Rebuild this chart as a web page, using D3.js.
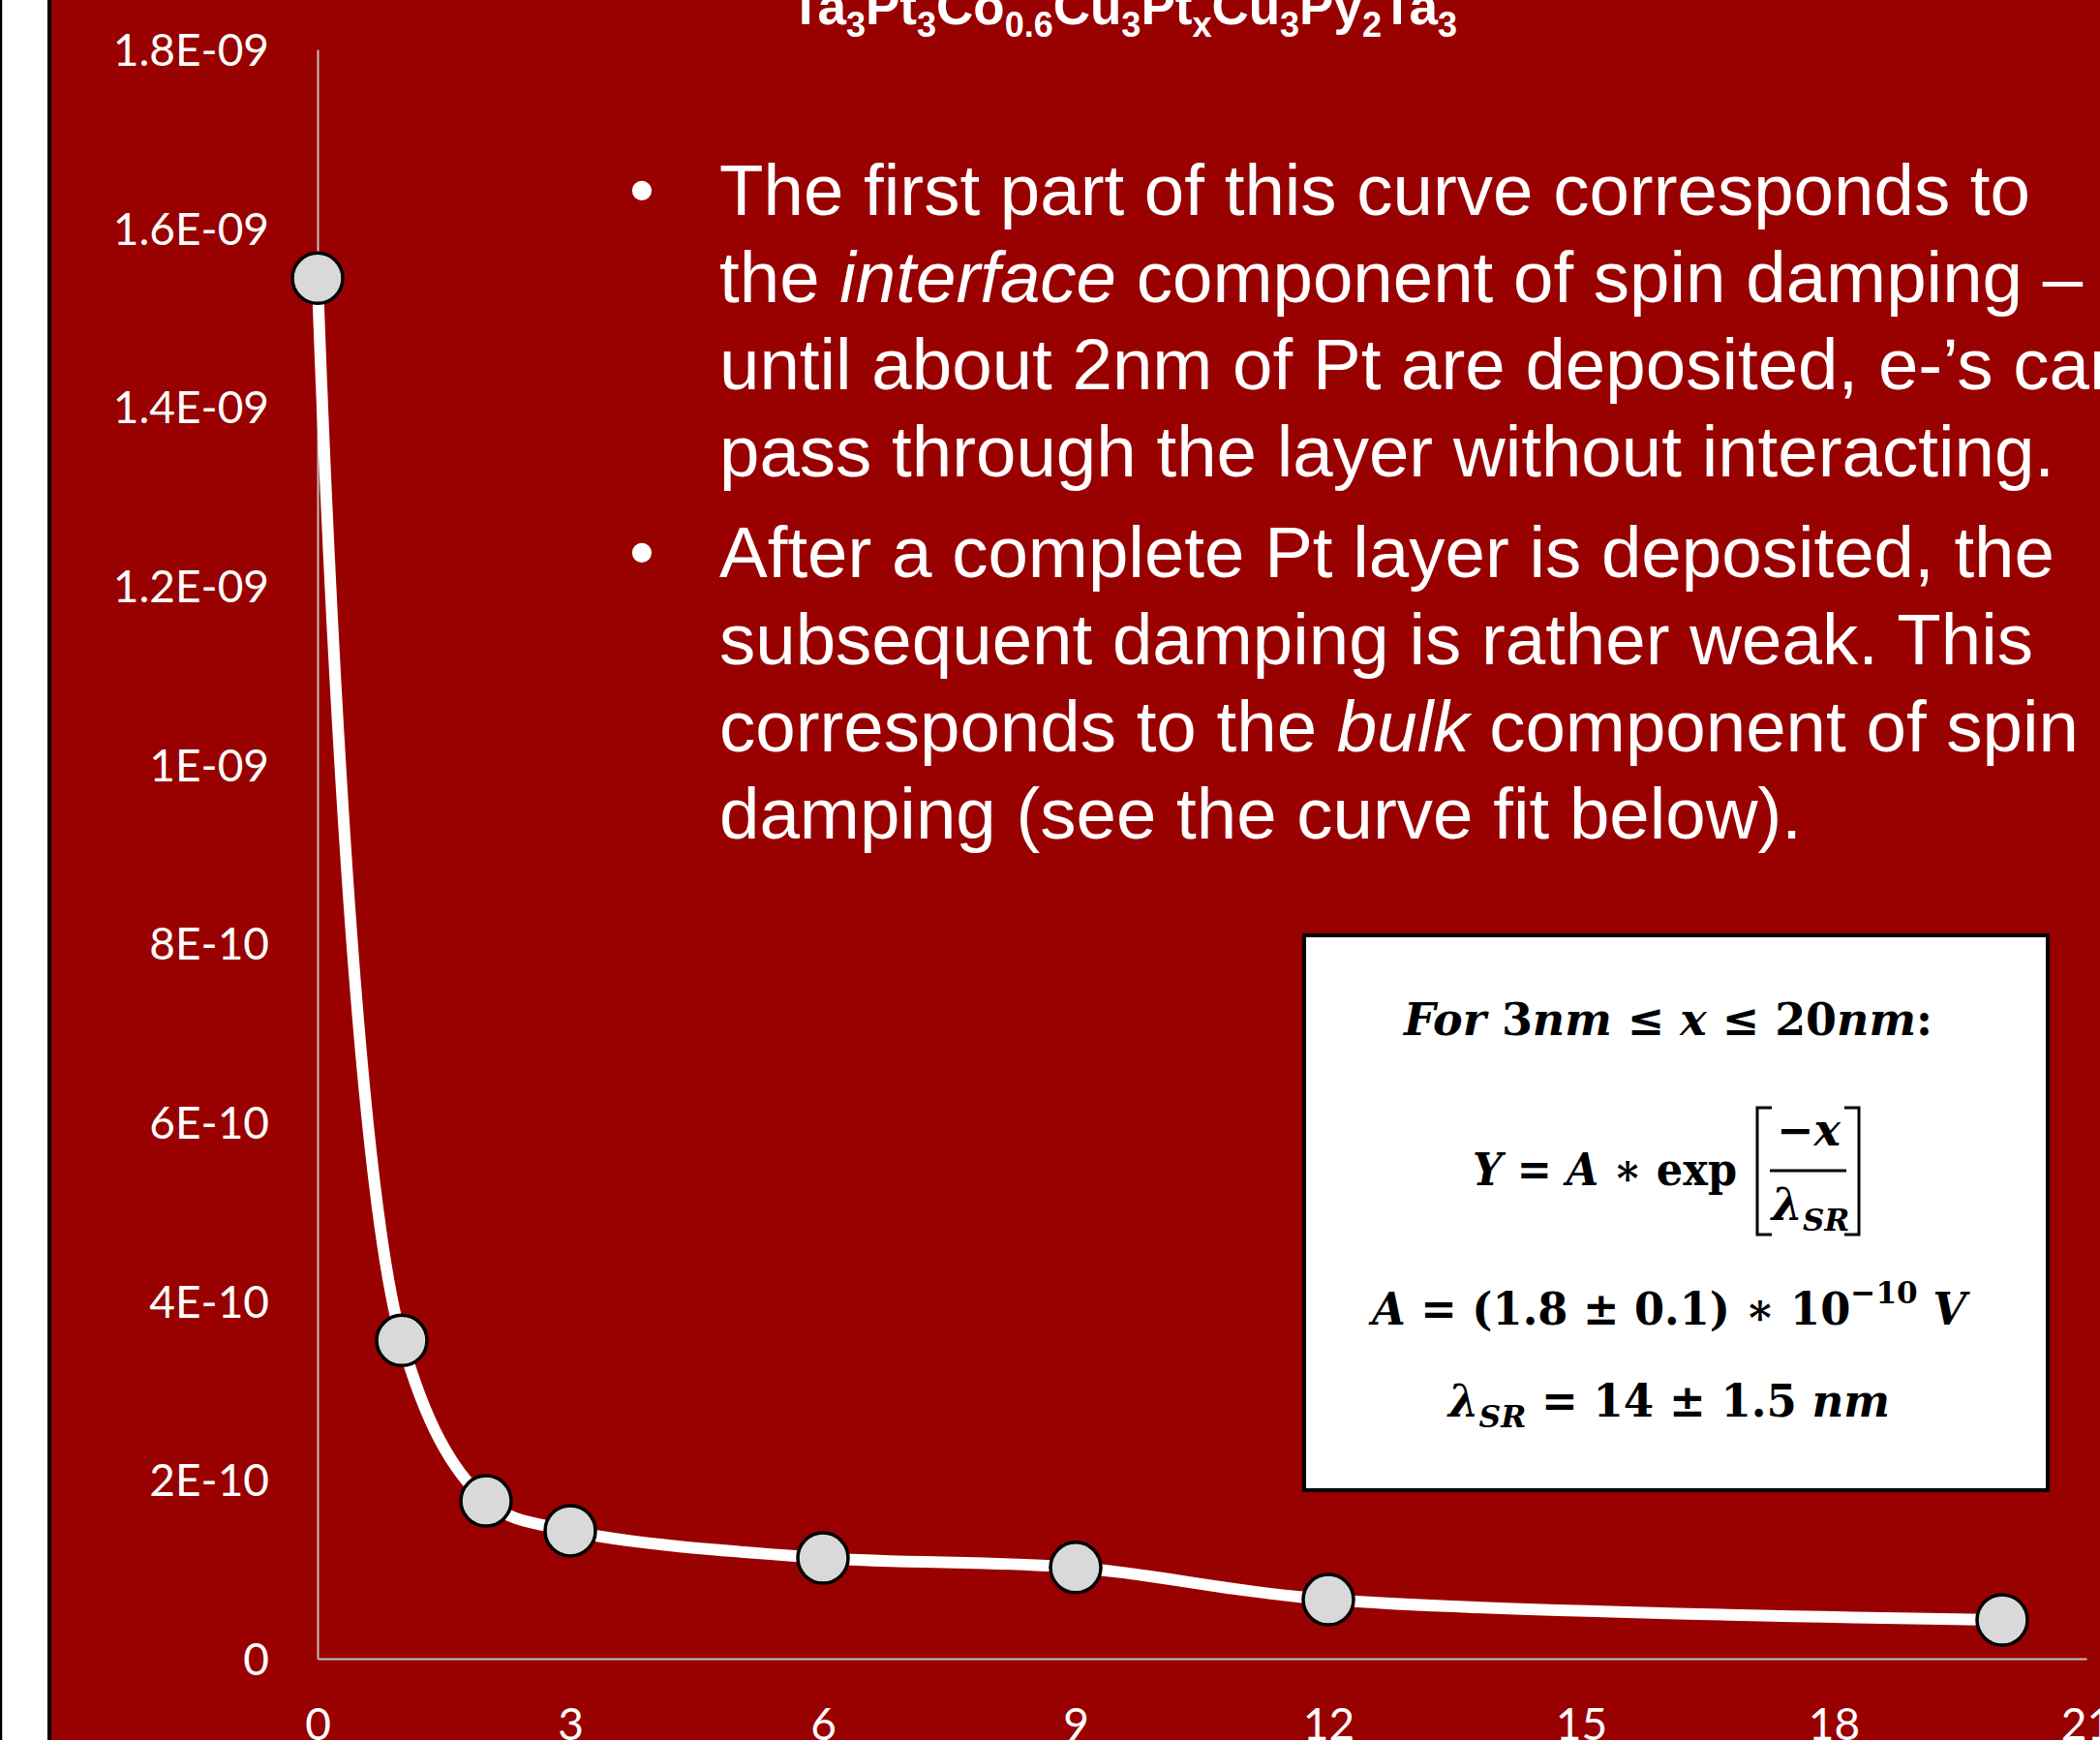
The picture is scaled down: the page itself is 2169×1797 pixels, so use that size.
<!DOCTYPE html>
<html>
<head>
<meta charset="utf-8">
<script src="https://cdn.jsdelivr.net/npm/d3@7"></script>
<style>
  html, body { margin: 0; padding: 0; background: #ffffff; overflow: hidden; }
  svg { display: block; }
</style>
</head>
<body>
<svg id="chart" width="2169" height="1797"></svg>
<script>
// Pt spacer thickness x (nm) and measured signal (V)
const thickness = [0, 1, 2, 3, 6, 9, 12, 20];
const signal = [1.544e-9, 0.356e-9, 0.1765e-9, 0.143e-9, 0.1126e-9, 0.102e-9, 0.066e-9, 0.0433e-9];

// Axis ticks and their printed labels
const yTicks = [0, 2e-10, 4e-10, 6e-10, 8e-10, 1e-9, 1.2e-9, 1.4e-9, 1.6e-9, 1.8e-9];
const yTickLabels = ["0", "2E-10", "4E-10", "6E-10", "8E-10", "1E-09", "1.2E-09", "1.4E-09", "1.6E-09", "1.8E-09"];
const xTicks = [0, 3, 6, 9, 12, 15, 18, 21];

// Stack title pieces: [text, isSubscript]
const titleParts = [
  ["Ta", false], ["3", true], ["Pt", false], ["3", true], ["Co", false], ["0.6", true],
  ["Cu", false], ["3", true], ["Pt", false], ["x", true], ["Cu", false], ["3", true],
  ["Py", false], ["2", true], ["Ta", false], ["3", true]
];

// Bullet paragraphs: each line is a list of [text, italic]
const bullets = [
  [
    [["The first part of this curve corresponds to", false]],
    [["the ", false], ["interface", true], [" component of spin damping \u2013", false]],
    [["until about 2nm of Pt are deposited, e-\u2019s can", false]],
    [["pass through the layer without interacting.", false]]
  ],
  [
    [["After a complete Pt layer is deposited, the", false]],
    [["subsequent damping is rather weak. This", false]],
    [["corresponds to the ", false], ["bulk", true], [" component of spin", false]],
    [["damping (see the curve fit below).", false]]
  ]
];

const W = 2169, H = 1797;
const RED = "#990000";
const svg = d3.select("#chart");

// Background: white side strip with dark edges, then the red slide
svg.append("rect").attr("x", 0).attr("y", 0).attr("width", W).attr("height", H).attr("fill", RED);
svg.append("rect").attr("x", 0).attr("y", 0).attr("width", 53).attr("height", H).attr("fill", "#000");
svg.append("rect").attr("x", 2).attr("y", 0).attr("width", 47).attr("height", H).attr("fill", "#fff");
svg.append("line").attr("x1", 2.5).attr("x2", 2.5).attr("y1", 0).attr("y2", H).attr("stroke", "#c8c8c8").attr("stroke-width", 1);

// Scales
const x = d3.scaleLinear().domain([0, 21]).range([328, 2155]);
const y = d3.scaleLinear().domain([0, 1.8e-9]).range([1713, 51]);

const axisFont = "Lato, 'Open Sans', sans-serif";

// Y axis
const yAxis = svg.append("g")
  .attr("transform", `translate(${x(0)},0)`)
  .call(d3.axisLeft(y).tickValues(yTicks).tickFormat((d, i) => yTickLabels[i])
    .tickSize(0).tickSizeOuter(0).tickPadding(50));
yAxis.select(".domain").attr("stroke", "#c0c0c0").attr("stroke-width", 2);
yAxis.selectAll("text")
  .attr("fill", "#fff").attr("font-family", axisFont).attr("font-size", 46)
  .attr("dy", "0.36em");

// X axis
const xAxis = svg.append("g")
  .attr("transform", `translate(0,${y(0)})`)
  .call(d3.axisBottom(x).tickValues(xTicks).tickFormat(d3.format("d"))
    .tickSize(0).tickSizeOuter(0));
xAxis.select(".domain").attr("stroke", "#c0c0c0").attr("stroke-width", 2);
xAxis.selectAll("text")
  .attr("fill", "#fff").attr("font-family", axisFont).attr("font-size", 46)
  .attr("y", 84).attr("dy", null);

// Smoothed data line
const line = d3.line()
  .x((d, i) => x(thickness[i]))
  .y(d => y(d))
  .curve(d3.curveCatmullRom.alpha(0.5));
svg.append("path")
  .datum(signal)
  .attr("d", line)
  .attr("fill", "none")
  .attr("stroke", "#fff")
  .attr("stroke-width", 12)
  .attr("stroke-linejoin", "round");

// Markers
svg.append("g").selectAll("circle")
  .data(signal)
  .join("circle")
  .attr("cx", (d, i) => x(thickness[i]))
  .attr("cy", d => y(d))
  .attr("r", 26)
  .attr("fill", "#d9d9d9")
  .attr("stroke", "#000")
  .attr("stroke-width", 3.5);

// Title (layer stack)
const title = svg.append("text")
  .attr("x", 816).attr("y", 25)
  .attr("fill", "#fff")
  .attr("font-family", "'Liberation Sans', Arial, sans-serif")
  .attr("font-weight", "bold")
  .attr("font-size", 53);
let shifted = false;
titleParts.forEach(([t, sub]) => {
  const ts = title.append("tspan").text(t);
  if (sub && !shifted) { ts.attr("dy", 13).attr("font-size", 36); shifted = true; }
  else if (sub) { ts.attr("font-size", 36); }
  else if (shifted) { ts.attr("dy", -13); shifted = false; }
});

// Bullet text
const bodyFont = "'Liberation Sans', Arial, sans-serif";
const paraBaselines = [222, 596];
const lineStep = 90;
bullets.forEach((para, p) => {
  svg.append("text")
    .attr("x", 650).attr("y", paraBaselines[p])
    .attr("fill", "#fff").attr("font-family", bodyFont).attr("font-size", 74)
    .text("\u2022");
  para.forEach((ln, k) => {
    const t = svg.append("text")
      .attr("x", 743).attr("y", paraBaselines[p] + k * lineStep)
      .attr("fill", "#fff").attr("font-family", bodyFont).attr("font-size", 74.5)
      .attr("xml:space", "preserve");
    ln.forEach(([s, it]) => {
      t.append("tspan").text(s).attr("font-style", it ? "italic" : "normal");
    });
  });
});

// Fit box
svg.append("rect")
  .attr("x", 1347).attr("y", 966).attr("width", 768).attr("height", 573)
  .attr("fill", "#fff").attr("stroke", "#000").attr("stroke-width", 4);

const mathFont = "'DejaVu Serif', 'Liberation Serif', serif";
function mathText(xp, yp, parts, len) {
  const t = svg.append("text")
    .attr("x", xp).attr("y", yp)
    .attr("fill", "#000").attr("font-family", mathFont).attr("font-weight", "bold")
    .attr("font-size", 46).attr("xml:space", "preserve");
  if (len) t.attr("textLength", len).attr("lengthAdjust", "spacingAndGlyphs");
  parts.forEach(p => {
    const ts = t.append("tspan").text(p.t).attr("font-style", p.i ? "italic" : "normal");
    if (p.size) ts.attr("font-size", p.size);
    if (p.dy) ts.attr("dy", p.dy);
  });
  return t;
}

// For 3nm <= x <= 20nm:
mathText(1450, 1069, [
  { t: "For " , i: true }, { t: "3" }, { t: "nm", i: true }, { t: " \u2264 " },
  { t: "x", i: true }, { t: " \u2264 " }, { t: "20" }, { t: "nm", i: true }, { t: ":" }
], 546);

// Y = A * exp[ -x / lambda_SR ]
mathText(1521, 1224, [
  { t: "Y", i: true }, { t: " = " }, { t: "A", i: true }, { t: " \u2217 " }, { t: "exp" }
], 273);
mathText(1868, 1183, [{ t: "\u2212" }, { t: "x", i: true }]).attr("text-anchor", "middle");
mathText(1870, 1260, [
  { t: "\u03BB", i: true }, { t: "SR", i: true, size: 31, dy: 11 }
]).attr("text-anchor", "middle");
svg.append("line").attr("x1", 1828).attr("x2", 1907).attr("y1", 1209).attr("y2", 1209)
  .attr("stroke", "#000").attr("stroke-width", 3);
const bracketL = "M1830,1144 H1815 V1275 H1830";
const bracketR = "M1905,1144 H1920 V1275 H1905";
[bracketL, bracketR].forEach(d =>
  svg.append("path").attr("d", d).attr("fill", "none").attr("stroke", "#000").attr("stroke-width", 3));

// A = (1.8 +/- 0.1) * 10^-10 V
mathText(1417, 1368, [
  { t: "A", i: true }, { t: " = (1.8 \u00B1 0.1) \u2217 10" },
  { t: "\u221210", size: 32, dy: -22 }, { t: " " , dy: 22 }, { t: "V", i: true }
], 614);

// lambda_SR = 14 +/- 1.5 nm
mathText(1496, 1463, [
  { t: "\u03BB", i: true }, { t: "SR", i: true, size: 32, dy: 11 },
  { t: " = 14 \u00B1 1.5 ", dy: -11 }, { t: "nm", i: true }
], 456);
</script>
</body>
</html>
